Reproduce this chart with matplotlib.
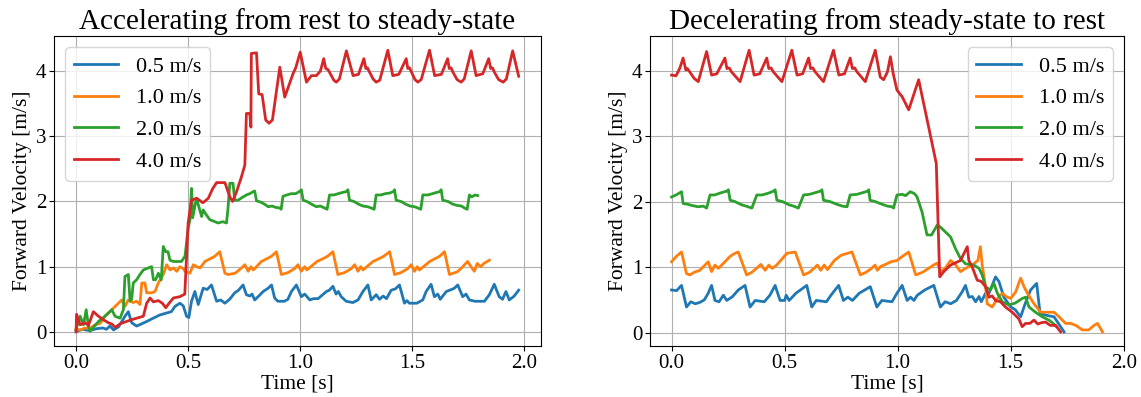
import matplotlib
matplotlib.use("Agg")
import matplotlib.pyplot as plt

# police type Times
plt.rcParams["font.family"] = "serif"
plt.rcParams["font.serif"] = ["Liberation Serif", "DejaVu Serif"]

labels = ["0.5 m/s", "1.0 m/s", "2.0 m/s", "4.0 m/s"]
colors = ["tab:blue", "tab:orange", "tab:green", "tab:red"]

# accélération : (temps [s], vitesse [m/s])
acc_05 = [(0, .01), (.03, .04), (.06, .02), (.092, .05), (.12, .06), (.135, .04), (.151, .09), (.167, .03),
          (.19, .08), (.218, .24), (.233, .31), (.248, .14), (.27, .09), (.29, .12), (.315, .16), (.344, .21),
          (.374, .26), (.404, .29), (.425, .31), (.441, .39), (.463, .44), (.478, .40), (.493, .24), (.503, .22),
          (.515, .47), (.53, .62), (.545, .42), (.567, .67), (.585, .65), (.604, .72), (.627, .47), (.645, .49),
          (.664, .44), (.685, .50), (.708, .60), (.725, .64), (.745, .72), (.76, .57), (.775, .55), (.785, .58),
          (.797, .49), (.815, .55), (.835, .62), (.857, .67), (.872, .72), (.886, .52), (.90, .47), (.93, .47),
          (.945, .50), (.961, .62), (.983, .72), (1.005, .54), (1.02, .58), (1.043, .49), (1.06, .51), (1.08, .51),
          (1.117, .62), (1.13, .64), (1.146, .70), (1.16, .58), (1.17, .62), (1.183, .54), (1.205, .47), (1.235, .45),
          (1.258, .49), (1.28, .62), (1.302, .72), (1.317, .49), (1.339, .57), (1.354, .50), (1.37, .55), (1.385, .51),
          (1.406, .64), (1.425, .66), (1.443, .72), (1.465, .44), (1.476, .48), (1.487, .44), (1.52, .44), (1.547, .49),
          (1.562, .62), (1.584, .73), (1.599, .54), (1.614, .58), (1.625, .50), (1.652, .62), (1.675, .65), (1.688, .67),
          (1.703, .72), (1.725, .54), (1.74, .58), (1.755, .49), (1.78, .47), (1.822, .47), (1.844, .57), (1.866, .73),
          (1.888, .54), (1.903, .50), (1.918, .62), (1.933, .49), (1.955, .55), (1.975, .64)]

acc_10 = [(0, .04), (.018, .03), (.04, .06), (.06, .05), (.085, .11), (.107, .13), (.129, .24), (.151, .31),
          (.174, .39), (.189, .44), (.204, .49), (.218, .39), (.233, .49), (.255, .45), (.27, .47), (.285, .42),
          (.293, .75), (.307, .75), (.315, .60), (.337, .60), (.352, .62), (.367, .75), (.389, .88), (.404, 1.03),
          (.419, .95), (.434, .98), (.449, .93), (.463, 1.0), (.478, .97), (.486, .93), (.508, .90), (.523, 1.03),
          (.538, 1.0), (.553, .98), (.575, 1.08), (.597, 1.12), (.619, 1.16), (.641, 1.23), (.664, .90), (.678, .88),
          (.71, .90), (.738, .98), (.753, 1.03), (.768, .93), (.78, 1.0), (.791, .95), (.827, 1.08), (.85, 1.12),
          (.872, 1.16), (.894, 1.23), (.916, .88), (.946, .91), (.975, .97), (.99, 1.03), (1.005, .93), (1.02, 1.0),
          (1.03, .95), (1.075, 1.08), (1.10, 1.12), (1.122, 1.16), (1.146, 1.23), (1.168, .88), (1.198, .91),
          (1.228, .97), (1.243, 1.03), (1.258, .93), (1.27, 1.0), (1.28, .95), (1.325, 1.08), (1.35, 1.12),
          (1.373, 1.16), (1.399, 1.23), (1.421, .88), (1.45, .91), (1.48, .97), (1.495, 1.03), (1.51, .93),
          (1.522, 1.0), (1.532, .95), (1.578, 1.08), (1.60, 1.12), (1.622, 1.16), (1.644, 1.23), (1.666, .88),
          (1.70, .92), (1.72, .98), (1.747, 1.08), (1.762, 1.0), (1.777, .93), (1.79, 1.05), (1.805, 1.0),
          (1.82, 1.05), (1.844, 1.10)]

acc_20 = [(0, .04), (.018, .24), (.033, .11), (.045, .34), (.055, .09), (.062, .01), (.08, .08), (.10, .16),
          (.122, .22), (.144, .29), (.159, .34), (.174, .24), (.196, .21), (.211, .34), (.218, .85), (.233, .88),
          (.241, .47), (.248, .50), (.255, .75), (.27, .80), (.285, .88), (.30, .95), (.322, .98), (.337, 1.0),
          (.345, .80), (.355, .80), (.367, .90), (.38, .80), (.389, 1.31), (.40, 1.23), (.41, 1.23), (.419, 1.1),
          (.434, 1.08), (.47, 1.08), (.486, 1.16), (.50, 1.59), (.508, 1.72), (.515, 2.2), (.52, 1.75), (.537, 2.05),
          (.56, 1.77), (.567, 1.87), (.58, 1.8), (.597, 1.72), (.634, 1.67), (.655, 1.69), (.671, 1.67), (.678, 1.9),
          (.686, 2.28), (.70, 2.28), (.708, 2.02), (.723, 2.02), (.74, 2.06), (.76, 2.1), (.775, 2.12), (.79, 2.15),
          (.797, 2.16), (.805, 2.01), (.815, 2.0), (.83, 1.98), (.845, 1.95), (.857, 1.92), (.875, 1.93),
          (.89, 1.91), (.909, 1.90), (.915, 1.88),
          (.923, 2.08), (.94, 2.1), (.96, 2.12), (.98, 2.12), (.995, 2.15), (1.005, 2.18), (1.013, 2.02),
          (1.03, 2.0), (1.05, 1.96), (1.072, 1.92), (1.09, 1.93), (1.109, 1.90), (1.12, 1.88),
          (1.131, 2.1), (1.15, 2.1), (1.17, 2.12), (1.19, 2.14), (1.205, 2.15), (1.213, 2.18), (1.22, 2.02),
          (1.24, 2.0), (1.26, 1.96), (1.28, 1.93), (1.30, 1.92), (1.317, 1.90), (1.33, 1.88),
          (1.339, 2.1), (1.36, 2.1), (1.38, 2.12), (1.40, 2.13), (1.415, 2.15), (1.421, 2.18), (1.428, 2.02),
          (1.45, 2.0), (1.47, 1.96), (1.49, 1.93), (1.51, 1.92), (1.525, 1.90), (1.538, 1.88),
          (1.547, 2.1), (1.57, 2.1), (1.59, 2.12), (1.61, 2.14), (1.622, 2.15), (1.629, 2.18), (1.636, 2.02),
          (1.66, 2.0), (1.68, 1.96), (1.70, 1.94), (1.72, 1.93), (1.733, 1.90), (1.745, 1.88),
          (1.755, 2.1), (1.765, 2.07), (1.78, 2.1), (1.792, 2.09)]

acc_40 = [(0, 0), (.002, .27), (.018, .11), (.04, .14), (.055, .10), (.077, .31), (.10, .24), (.12, .19),
          (.144, .14), (.16, .12), (.174, .07), (.20, .13), (.25, .19), (.30, .24), (.315, .44), (.33, .52),
          (.345, .46), (.367, .48), (.385, .44), (.40, .37), (.415, .44), (.434, .52), (.463, .54), (.485, .58),
          (.50, 1.67), (.515, 2.02), (.538, 2.05), (.566, 1.98), (.59, 2.05), (.61, 2.2), (.627, 2.29), (.664, 2.29),
          (.686, 2.07), (.698, 2.0), (.716, 2.15), (.738, 2.38), (.753, 2.56), (.76, 3.35), (.775, 3.35),
          (.78, 3.14), (.782, 4.27), (.805, 4.28), (.815, 3.65), (.83, 3.64), (.846, 3.25), (.861, 3.2),
          (.876, 3.25), (.909, 4.06), (.931, 3.6), (.968, 3.96), (.98, 4.05), (1.0, 4.29), (1.028, 3.83),
          (1.05, 3.93), (1.072, 3.93), (1.09, 4.0), (1.105, 4.19), (1.114, 4.04), (1.125, 4.02), (1.131, 3.98),
          (1.15, 3.86), (1.161, 3.83), (1.175, 3.88),
          (1.206, 4.31), (1.236, 3.93), (1.26, 3.95), (1.284, 4.19), (1.293, 4.04), (1.30, 4.05), (1.31, 3.98),
          (1.325, 3.88), (1.339, 3.83), (1.355, 3.86),
          (1.391, 4.32), (1.413, 3.93), (1.44, 3.95), (1.473, 4.19), (1.48, 4.04), (1.488, 4.05), (1.497, 3.98),
          (1.512, 3.87), (1.525, 3.83), (1.54, 3.87),
          (1.577, 4.32), (1.60, 3.93), (1.63, 3.95), (1.658, 4.19), (1.665, 4.04), (1.673, 4.05), (1.682, 3.98),
          (1.70, 3.87), (1.718, 3.83), (1.732, 3.88),
          (1.763, 4.31), (1.785, 3.93), (1.815, 3.96), (1.841, 4.19), (1.85, 4.04), (1.858, 4.05), (1.867, 3.98),
          (1.885, 3.87), (1.906, 3.83), (1.92, 3.88),
          (1.948, 4.31), (1.975, 3.92)]

# décélération
dec_05 = [(0, .65), (.022, .64), (.044, .72), (.066, .39), (.085, .47), (.105, .44), (.125, .46), (.145, .50),
          (.162, .60), (.177, .72), (.192, .49), (.21, .47), (.229, .57), (.244, .49), (.27, .55), (.295, .65),
          (.325, .72), (.347, .39), (.37, .49), (.41, .47), (.435, .57), (.458, .72), (.48, .49), (.50, .49),
          (.507, .57), (.52, .49), (.55, .60), (.598, .72), (.62, .39), (.64, .49), (.685, .47), (.705, .57),
          (.739, .72), (.76, .49), (.78, .54), (.80, .49), (.83, .60), (.879, .70), (.908, .39), (.93, .49),
          (.975, .47), (.997, .60), (1.02, .72), (1.042, .49), (1.057, .54), (1.072, .49), (1.087, .57),
          (1.12, .65), (1.16, .72), (1.189, .39), (1.21, .47), (1.235, .44), (1.26, .49), (1.285, .62), (1.3, .72),
          (1.315, .54), (1.33, .55), (1.345, .47), (1.36, .55), (1.37, .47), (1.389, .60), (1.404, .60),
          (1.418, .72), (1.433, .85), (1.448, .78), (1.47, .54), (1.5, .39), (1.52, .35), (1.544, .24),
          (1.565, .45), (1.588, .65), (1.615, .75), (1.63, .29), (1.662, .26), (1.692, .24), (1.736, .01)]

dec_10 = [(0, 1.08), (.02, 1.16), (.044, 1.23), (.066, .90), (.081, .88), (.1, .92), (.125, .95), (.145, 1.02),
          (.162, 1.08), (.177, .93), (.192, 1.03), (.207, .98), (.222, 1.03), (.258, 1.16), (.275, 1.2),
          (.295, 1.23), (.332, .88), (.355, .92), (.376, .98), (.395, 1.04), (.414, .95), (.43, 1.03), (.445, .98),
          (.465, 1.03), (.51, 1.21), (.547, 1.23), (.584, .88), (.61, .92), (.63, .98), (.645, 1.03), (.66, .95),
          (.675, 1.03), (.69, .96), (.72, 1.1), (.75, 1.18), (.798, 1.23), (.835, .88), (.86, .92), (.885, .98),
          (.9, 1.03), (.91, .95), (.925, 1.01), (.94, 1.03), (.97, 1.08), (.997, 1.10), (1.02, 1.16),
          (1.049, 1.23), (1.08, .88), (1.11, .92), (1.137, .98), (1.159, 1.03), (1.175, 1.06), (1.19, .93),
          (1.21, .98), (1.234, 1.1), (1.255, 1.04), (1.278, .93), (1.3, .98), (1.33, 1.03), (1.355, 1.10),
          (1.366, 1.31), (1.374, 1.03), (1.389, .70), (1.396, .44), (1.418, .39), (1.448, .55), (1.463, .60),
          (1.48, .55), (1.5, .52), (1.522, .62), (1.544, .83), (1.559, .70), (1.574, .60), (1.603, .44),
          (1.633, .31), (1.66, .31), (1.692, .31), (1.714, .24), (1.743, .14), (1.765, .14), (1.788, .11),
          (1.817, .04), (1.845, .04), (1.869, .11), (1.884, .14), (1.906, .01)]

dec_20 = [(0, 2.07), (.02, 2.1), (.044, 2.15), (.051, 1.97), (.07, 1.96), (.09, 1.94), (.118, 1.92), (.14, 1.93),
          (.155, 1.90), (.17, 2.1), (.19, 2.1), (.215, 2.13), (.245, 2.16), (.251, 2.18), (.259, 2.02), (.28, 2.0),
          (.31, 1.95), (.33, 1.93), (.355, 1.90), (.377, 2.1), (.40, 2.1), (.43, 2.13), (.452, 2.16), (.458, 2.18),
          (.466, 2.02), (.49, 2.0), (.52, 1.95), (.54, 1.93), (.561, 1.90), (.584, 2.1), (.61, 2.11), (.64, 2.14),
          (.66, 2.16), (.665, 2.18), (.672, 2.02), (.70, 2.0), (.73, 1.96), (.755, 1.93), (.776, 1.92), (.79, 2.1),
          (.82, 2.11), (.85, 2.14), (.868, 2.16), (.872, 2.18), (.878, 2.02), (.90, 2.0), (.93, 1.96), (.955, 1.93),
          (.975, 1.92), (.982, 1.90), (.997, 2.1), (1.02, 2.11), (1.035, 2.09), (1.056, 2.15), (1.075, 2.12),
          (1.086, 2.07), (1.108, 1.84), (1.13, 1.49), (1.15, 1.49), (1.175, 1.64), (1.189, 1.61), (1.204, 1.56),
          (1.234, 1.46), (1.256, 1.28), (1.278, 1.13), (1.3, 1.05), (1.337, 1.03), (1.36, .98), (1.374, .88),
          (1.389, .70), (1.41, .65), (1.426, .75), (1.441, .60), (1.463, .47), (1.492, .42), (1.52, .45),
          (1.551, .52), (1.566, .54), (1.581, .39), (1.61, .31), (1.64, .24), (1.669, .19), (1.685, .15),
          (1.70, .10)]

dec_40 = [(0, 3.93), (.02, 3.92), (.037, 4.04), (.051, 4.19), (.063, 4.01), (.07, 4.03), (.08, 3.98), (.1, 3.88),
          (.118, 3.83), (.155, 4.29), (.177, 3.93), (.2, 3.95), (.236, 4.19), (.245, 4.03), (.255, 4.04),
          (.265, 3.98), (.303, 3.83), (.343, 4.31), (.365, 3.93), (.39, 3.95), (.421, 4.19), (.43, 4.03),
          (.44, 4.04), (.45, 3.98), (.488, 3.83), (.532, 4.31), (.555, 3.93), (.58, 3.95), (.606, 4.19),
          (.615, 4.03), (.625, 4.04), (.635, 3.98), (.672, 3.83), (.716, 4.31), (.74, 3.93), (.765, 3.95),
          (.79, 4.19), (.80, 4.03), (.81, 4.04), (.82, 3.98), (.857, 3.83), (.901, 4.31), (.923, 3.9),
          (.938, 3.86), (.955, 3.98), (.968, 4.21), (.98, 3.96), (.997, 3.7), (1.02, 3.6), (1.049, 3.40),
          (1.093, 3.86), (1.115, 3.5), (1.137, 3.14), (1.171, 2.58), (1.186, .85), (1.204, .93), (1.234, 1.03),
          (1.278, 1.1), (1.308, 1.31), (1.315, 1.1), (1.33, 1.0), (1.352, .80), (1.37, .78), (1.389, .70),
          (1.404, .54), (1.418, .56), (1.433, .49), (1.455, .47), (1.477, .39), (1.507, .31), (1.536, .21),
          (1.551, .09), (1.566, .14), (1.585, .14), (1.603, .19), (1.62, .13), (1.635, .15), (1.655, .16),
          (1.675, .11), (1.699, .11), (1.721, .01)]

fig = plt.figure(figsize=(11.41, 3.97), dpi=100)
ax1 = fig.add_axes([0.0473, 0.1285, 0.4267, 0.7805])
ax2 = fig.add_axes([0.5697, 0.1285, 0.4154, 0.7805])

for ax, series, titre, loc in [
    (ax1, [acc_05, acc_10, acc_20, acc_40], "Accelerating from rest to steady-state", "upper left"),
    (ax2, [dec_05, dec_10, dec_20, dec_40], "Decelerating from steady-state to rest", "upper right"),
]:
    for s, lab, c in zip(series, labels, colors):
        t, v = zip(*s)
        ax.plot(t, v, color=c, lw=2, label=lab)
    ax.set_title(titre, fontsize=21, pad=5)
    ax.set_xlabel("Time [s]", fontsize=15.5, labelpad=1)
    ax.set_ylabel("Forward Velocity [m/s]", fontsize=15.5, labelpad=3)
    ax.set_xticks([0.0, 0.5, 1.0, 1.5, 2.0])
    ax.tick_params(labelsize=15, pad=2)
    ax.grid(True)
    ax.legend(loc=loc, fontsize=16)

plt.savefig("out.png", dpi=100)
